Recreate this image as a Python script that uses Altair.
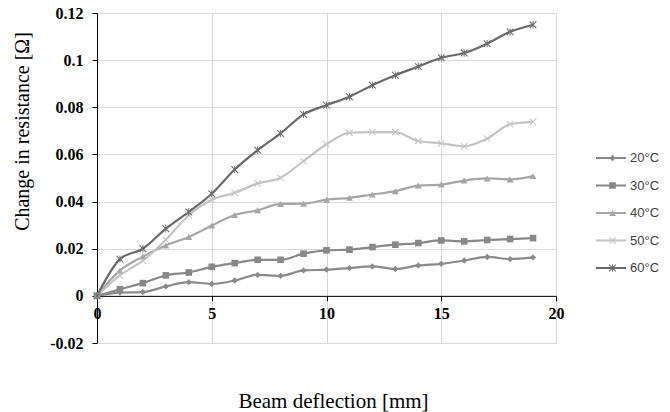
import altair as alt
import pandas as pd

# ---- data ----
deflection = list(range(20))
series_names = ["20°C", "30°C", "40°C", "50°C", "60°C"]
d20 = [0, 0.0014, 0.0016, 0.0040, 0.0058, 0.0051, 0.0065, 0.0089, 0.0085, 0.0108,
       0.0111, 0.0118, 0.0125, 0.0114, 0.0129, 0.0136, 0.0150, 0.0165, 0.0156, 0.0163]
d30 = [0, 0.0028, 0.0054, 0.0087, 0.0099, 0.0123, 0.0139, 0.0153, 0.0153, 0.0179,
       0.0193, 0.0196, 0.0207, 0.0217, 0.0224, 0.0235, 0.0231, 0.0237, 0.0241, 0.0245]
d40 = [0, 0.0108, 0.0167, 0.0214, 0.0250, 0.0298, 0.0343, 0.0363, 0.0390, 0.0391,
       0.0408, 0.0416, 0.0430, 0.0444, 0.0468, 0.0472, 0.0489, 0.0498, 0.0494, 0.0508]
d50 = [0, 0.0087, 0.0149, 0.0238, 0.0342, 0.0408, 0.0437, 0.0477, 0.0501, 0.0572,
       0.0643, 0.0692, 0.0695, 0.0695, 0.0657, 0.0647, 0.0635, 0.0667, 0.0728, 0.0738]
d60 = [0, 0.0156, 0.0200, 0.0285, 0.0356, 0.0433, 0.0536, 0.0618, 0.0689, 0.0770,
       0.0809, 0.0845, 0.0894, 0.0936, 0.0973, 0.1010, 0.1030, 0.1070, 0.1120, 0.1150]
x_ticks = [0, 5, 10, 15, 20]
y_ticks = [-0.02, 0, 0.02, 0.04, 0.06, 0.08, 0.1, 0.12]

# marker keys (kept distinct from the line keys so the two legends stay separate)
marker_keys = ["m" + n for n in series_names]

rows = []
for name, key, vals in zip(series_names, marker_keys, [d20, d30, d40, d50, d60]):
    for xv, yv in zip(deflection, vals):
        rows.append({"x": xv, "y": yv, "s": name, "s2": key})
df = pd.DataFrame(rows)

# ---- styling ----
line_colors = ["#8a8a8a", "#888888", "#a6a6a6", "#c4c4c4", "#6a6a6a"]
x_path = ("M-1,-0.8L-0.8,-1L0,-0.2L0.8,-1L1,-0.8L0.2,0L1,0.8L0.8,1L0,0.2"
          "L-0.8,1L-1,0.8L-0.2,0Z")
ast_path = x_path + "M-0.12,-1L0.12,-1L0.12,1L-0.12,1Z"
shapes = ["diamond", "square", "triangle-up", x_path, ast_path]
sizes = [40, 55, 60, 60, 70]

W, H = 459, 330
y_min, y_max = -0.02, 0.12
x_axis_offset = -H * (0 - y_min) / (y_max - y_min)

serif = "Liberation Serif"
sans = "Liberation Sans"

x_enc = alt.X(
    "x:Q",
    scale=alt.Scale(domain=[0, 20], nice=False),
    axis=alt.Axis(
        values=x_ticks, offset=x_axis_offset, grid=True, gridColor="#d9d9d9",
        domainColor="black", domainWidth=1, tickColor="black", tickSize=5,
        labelFont=serif, labelFontWeight="bold", labelFontSize=16,
        labelColor="black", labelPadding=5, labelFlush=False,
        title="Beam deflection [mm]", titleFont=serif, titleFontWeight="normal",
        titleFontSize=21, titleColor="black", titleX=236, titleY=106,
        titleBaseline="middle", titleAlign="center",
    ),
)
y_enc = alt.Y(
    "y:Q",
    scale=alt.Scale(domain=[y_min, y_max], nice=False, zero=False),
    axis=alt.Axis(
        values=y_ticks, grid=True, gridColor="#d9d9d9",
        domainColor="black", domainWidth=1, tickColor="black", tickSize=5,
        labelFont=serif, labelFontWeight="bold", labelFontSize=16,
        labelColor="black", labelPadding=9,
        labelExpr="datum.value < 0 ? '-' + format(-datum.value, '~g') : format(datum.value, '~g')",
        title="Change in resistance [Ω]", titleFont=serif,
        titleFontWeight="normal", titleFontSize=20, titleColor="black",
        titleX=-75, titleY=118, titleBaseline="middle", titleAlign="center",
    ),
)

base = alt.Chart(df)

lines = base.mark_line(strokeWidth=2.2, interpolate="monotone").encode(
    x=x_enc,
    y=y_enc,
    stroke=alt.Stroke(
        "s:N",
        scale=alt.Scale(domain=series_names, range=line_colors),
        legend=alt.Legend(
            orient="none", legendX=498, legendY=135, title=None,
            symbolType="stroke", symbolSize=900, symbolStrokeWidth=2,
            clipHeight=20, rowPadding=7.5, padding=0, labelOffset=3,
            labelFont=sans, labelFontSize=13, labelColor="#404040",
        ),
    ),
    detail="s:N",
)

legend_pts = alt.Legend(
    orient="none", legendX=509, legendY=135, title=None,
    clipHeight=20, rowPadding=7.5, padding=0, labelExpr="''",
    labelFont=sans, labelFontSize=13, symbolStrokeWidth=0,
)
points = base.mark_point(filled=True, opacity=1).encode(
    x="x:Q",
    y="y:Q",
    fill=alt.Fill("s2:N", scale=alt.Scale(domain=marker_keys, range=line_colors),
                  legend=legend_pts),
    shape=alt.Shape("s2:N", scale=alt.Scale(domain=marker_keys, range=shapes),
                    legend=legend_pts),
    size=alt.Size("s2:N", scale=alt.Scale(domain=marker_keys, range=sizes),
                  legend=legend_pts),
)

chart = (
    alt.layer(lines, points)
    .properties(
        width=W, height=H,
        padding={"left": 97, "top": 13, "right": 114, "bottom": 69},
        autosize=alt.AutoSizeParams(type="none"),
        background="white",
    )
    .configure_view(stroke="transparent")
)

chart.save("out.html", embed_options={"renderer": "svg", "actions": False})
